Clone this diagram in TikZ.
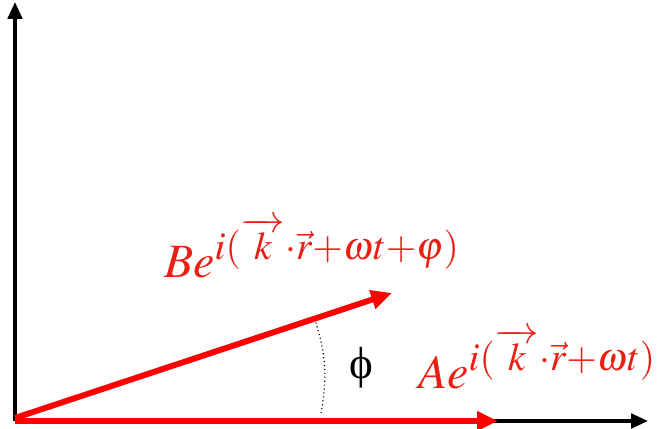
\documentclass[tikz,border=0pt]{standalone}
\usepackage{amsmath}
\usepackage{mathptmx}
\usepackage[no-math]{fontspec}
\newfontfamily\phifont{Liberation Serif}
\usetikzlibrary{arrows.meta}
\newcommand{\expo}[1]{^{\mbox{\fontsize{28}{30}\selectfont$#1$}}}

\begin{document}
\begin{tikzpicture}[
  axis/.style={-{Triangle[length=4.2mm, width=3.6mm]}, line width=2.5pt, black},
  wave/.style={-{Triangle[length=5.2mm, width=4.6mm]}, line width=4.2pt, red},
  lbl/.style={text=textred, inner sep=0pt, font=\fontsize{34}{38}\selectfont},
  angle/.style={dotted, line width=0.8pt},
]
\definecolor{textred}{RGB}{235,30,20}
\useasboundingbox (0,0) rectangle (16.5,10.7);

% === Axes ===
\coordinate (O) at (0.375,0.175);
\coordinate (ytip) at (0.375,10.65);
\coordinate (xtip) at (16.2,0.175);
\draw[axis] (O) -- (ytip);
\draw[axis] (O) -- (xtip);

% === Wave vectors ===
\coordinate (Atip) at (12.45,0.175);
\coordinate (Bstart) at (0.375,0.25);
\coordinate (Btip) at (9.8,3.375);
\draw[wave] (O) -- (Atip);
\draw[wave] (Bstart) -- (Btip);

% === Phase angle ===
\coordinate (arcbot) at (8.025,0.375);
\coordinate (arctop) at (7.875,2.7);
\draw[angle] (arcbot) to[bend right=14] (arctop);
\node[font=\fontsize{32}{34}\selectfont\phifont] (phi) at (9.03,1.5) {ϕ};

% === Labels ===
\node[lbl, anchor=base west] (Blabel) at (4.1,3.775)
  {$Be\expo{i(\overrightarrow{\;\,k\,\;}{\cdot}\vec{r}{+}\omega t{+}\varphi)}$};
\node[lbl, anchor=base west] (Alabel) at (10.45,1.0)
  {$Ae\expo{i(\overrightarrow{\;\,k\,\;}{\cdot}\vec{r}{+}\omega t)}$};

\end{tikzpicture}
\end{document}
